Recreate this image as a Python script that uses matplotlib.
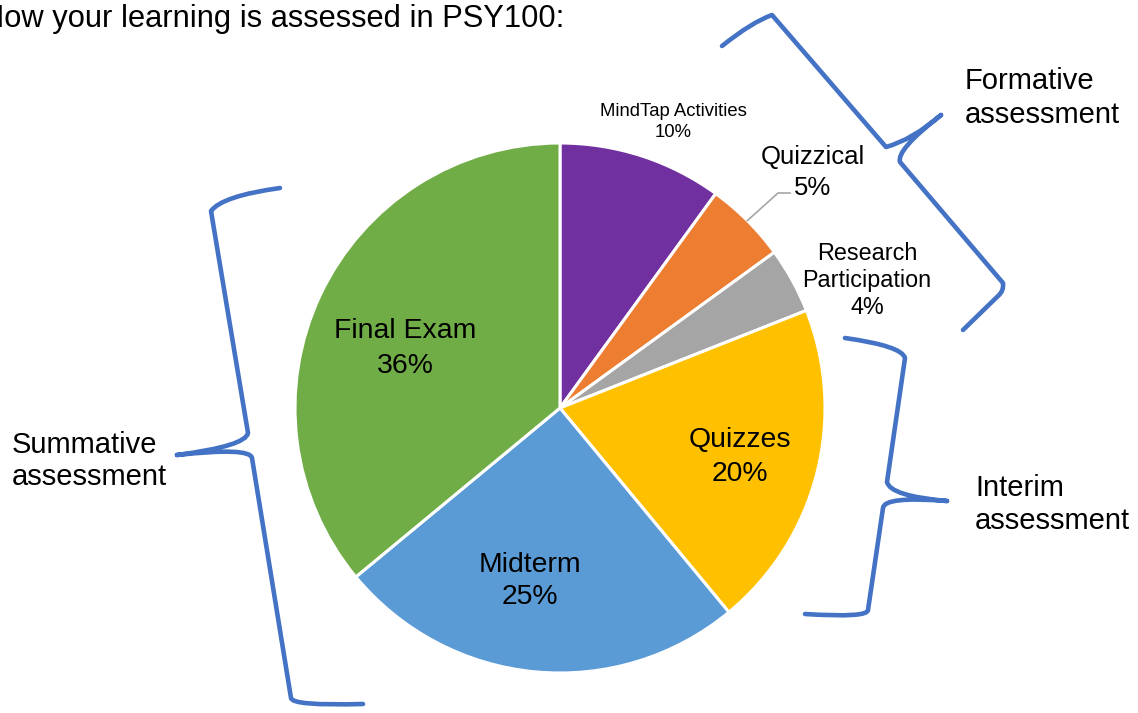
import matplotlib.pyplot as plt
from matplotlib.path import Path
from matplotlib.patches import PathPatch
import numpy as np

plt.rcParams['font.family'] = ['Liberation Sans', 'DejaVu Sans']

# chart data
categories = ['MindTap Activities', 'Quizzical', 'Research Participation', 'Quizzes', 'Midterm', 'Final Exam']
weights = [10, 5, 4, 20, 25, 36]
colors = ['#7030A0', '#ED7D31', '#A5A5A5', '#FFC000', '#5B9BD5', '#70AD47']

W, H = 1138, 713
CX, CY, R = 560, 408, 265


def Y(y):
    # picture rows run downward, axes run upward
    return H - y


fig = plt.figure(figsize=(W / 100, H / 100), dpi=100)
ax = fig.add_axes([0, 0, 1, 1])

wedges, _ = ax.pie(weights, colors=colors, startangle=90, counterclock=False,
                   center=(CX, Y(CY)), radius=R,
                   wedgeprops=dict(edgecolor='white', linewidth=2.2))

ax.set_xlim(0, W)
ax.set_ylim(0, H)
ax.axis('off')

# slice labels: (x, lines, baselines, size)
label_lines = {
    'MindTap Activities': (673, ['MindTap Activities', '10%'], [116, 137], 13.3),
    'Quizzical': (813, ['Quizzical', '5%'], [164, 195], 18.5),
    'Research Participation': (867, ['Research', 'Participation', '4%'], [260, 287, 314], 16.8),
    'Quizzes': (740, ['Quizzes', '20%'], [447, 481], 20.4),
    'Midterm': (530, ['Midterm', '25%'], [572, 604], 20.4),
    'Final Exam': (405, ['Final Exam', '36%'], [338, 373], 20.4),
}
for name in categories:
    x, lines, baselines, size = label_lines[name]
    for txt, b in zip(lines, baselines):
        ax.text(x, Y(b), txt, ha='center', va='baseline', fontsize=size, color='black')

# leader line for Quizzical
w = wedges[categories.index('Quizzical')]
mid = np.deg2rad((w.theta1 + w.theta2) / 2)
x0 = CX + R * np.cos(mid)
y0 = Y(CY) + R * np.sin(mid)
ax.plot([x0, 778, 790], [y0, Y(193), Y(193)], color='#A6A6A6', lw=1.2)

# title (left edge cut off as in the original slide)
ax.text(-18, Y(27), 'How your learning is assessed in PSY100:', ha='left', va='baseline',
        fontsize=22.2, color='black')

# group labels
for x, lines, baselines in [(965, ['Formative', 'assessment'], [89, 123]),
                            (12, ['Summative', 'assessment'], [453, 485]),
                            (975, ['Interim', 'assessment'], [496, 529])]:
    for txt, b in zip(lines, baselines):
        ax.text(x, Y(b), txt, ha='left', va='baseline', fontsize=21, color='black')

# hand drawn braces
M, L, Q = Path.MOVETO, Path.LINETO, Path.CURVE3
braces = [
    [(M, (722, 46)), (Q, (752, 22)), (Q, (772, 15)), (L, (886, 147)),
     (Q, (912, 140)), (Q, (941, 115)), (M, (941, 115)), (Q, (896, 150)), (Q, (900, 162)),
     (L, (1003, 283)), (Q, (1004, 291)), (Q, (998, 296)), (L, (963, 330))],
    [(M, (280, 188)), (Q, (222, 196)), (Q, (211, 211)), (L, (248, 433)),
     (Q, (246, 446)), (Q, (177, 455)), (M, (177, 455)), (Q, (250, 447)), (Q, (252, 458)),
     (L, (291, 698)), (Q, (292, 706)), (Q, (363, 704))],
    [(M, (845, 338)), (Q, (902, 346)), (Q, (905, 358)), (L, (887, 482)),
     (Q, (890, 496)), (Q, (947, 501)), (M, (947, 501)), (Q, (884, 496)), (Q, (883, 508)),
     (L, (868, 610)), (Q, (868, 618)), (Q, (805, 614))],
]
for b in braces:
    codes = [c for c, _ in b]
    verts = [(p[0], Y(p[1])) for _, p in b]
    ax.add_patch(PathPatch(Path(verts, codes), fill=False, edgecolor='#4472C4',
                           lw=3.3, capstyle='round', joinstyle='round'))

fig.savefig('out.png', dpi=100)
